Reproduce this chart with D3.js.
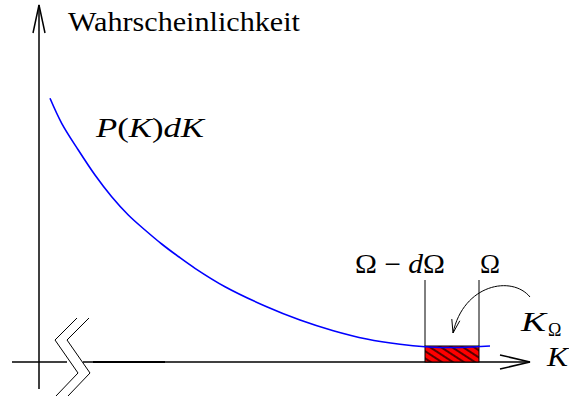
<!DOCTYPE html>
<html>
<head>
<meta charset="utf-8">
<script src="https://cdn.jsdelivr.net/npm/d3@7"></script>
<style>
  html, body { margin: 0; padding: 0; background: #fff; }
  svg { display: block; }
</style>
</head>
<body>
<svg id="chart" width="569" height="396"></svg>
<script>
// Probability density P(K) sampled along K (arbitrary units)
const curveK = [1.1, 2.27, 3.93, 5.6, 7.27, 8.93, 10.6, 12.27, 13.93, 15.6, 18.6, 22.77, 26.1, 29.43, 32.77, 36.1, 38.6, 42.1, 45.1];
const curveP = [26.37, 23.87, 21.2, 18.7, 16.53, 14.7, 13.2, 11.8, 10.55, 9.37, 7.53, 5.53, 4.2, 3.13, 2.3, 1.77, 1.53, 1.45, 1.6];

// Interval [Ω − dΩ, Ω] on the K axis and the height of the shaded strip
const bandK = [38.6, 44.0];
const bandTop = 1.6;
const markerTop = 8.2;

// Axis extents
const xAxisK = [-2.7, 49.1];
const yAxisP = [-2.7, 35.7];
const thickK = [5.4, 12.6];
const gapK = [2.8, 4.4];

// Broken-axis zigzag (two parallel strokes)
const zigK = [3.8, 1.6, 3.9, 1.7];
const zigP = [4.4, 2.2, -1.1, -3.4];
const zigOffsetK = 1.2;

// Curved pointer towards K_Ω
const pointerK = [49.1, 47.3, 42.45, 41.4];
const pointerP = [6.5, 8.7, 7.8, 2.9];

const labels = {
  yTitle: "Wahrscheinlichkeit",
  omega: "Ω",
  minus: "−",
  d: "d",
  K: "K"
};

const serif = "'Liberation Serif', 'Times New Roman', 'DejaVu Serif', serif";

const svg = d3.select("#chart");
const x = d3.scaleLinear().domain([0, 50]).range([39, 539]);
const y = d3.scaleLinear().domain([0, 36]).range([362, 2]);

// hatch pattern for the strip
const defs = svg.append("defs");
const pat = defs.append("pattern")
  .attr("id", "hatch")
  .attr("patternUnits", "userSpaceOnUse")
  .attr("width", 12).attr("height", 6)
  .attr("patternTransform", "rotate(33)");
pat.append("rect").attr("width", 12).attr("height", 6).attr("fill", "#ff0000");
pat.append("line").attr("x1", 0).attr("x2", 12).attr("y1", 3).attr("y2", 3)
  .attr("stroke", "#000").attr("stroke-width", 1.3);

const axisStroke = 1.5;

// y axis
svg.append("line")
  .attr("x1", x(0)).attr("x2", x(0))
  .attr("y1", y(yAxisP[0])).attr("y2", y(yAxisP[1]))
  .attr("stroke", "#000").attr("stroke-width", axisStroke);
// y arrowhead (open)
svg.append("path")
  .attr("d", `M${x(0) - 6},${y(yAxisP[1]) + 28} L${x(0)},${y(yAxisP[1])} L${x(0) + 6},${y(yAxisP[1]) + 28}`)
  .attr("fill", "none").attr("stroke", "#000").attr("stroke-width", axisStroke);

// x axis, broken near origin
svg.append("line")
  .attr("x1", x(xAxisK[0])).attr("x2", x(gapK[0]))
  .attr("y1", y(0)).attr("y2", y(0))
  .attr("stroke", "#000").attr("stroke-width", axisStroke);
svg.append("line")
  .attr("x1", x(gapK[1])).attr("x2", x(xAxisK[1]))
  .attr("y1", y(0)).attr("y2", y(0))
  .attr("stroke", "#000").attr("stroke-width", axisStroke);
svg.append("line")
  .attr("x1", x(thickK[0])).attr("x2", x(thickK[1]))
  .attr("y1", y(0)).attr("y2", y(0))
  .attr("stroke", "#000").attr("stroke-width", 2.2);
// x arrowhead
svg.append("path")
  .attr("d", `M${x(xAxisK[1]) - 30},${y(0) - 7} L${x(xAxisK[1])},${y(0)} L${x(xAxisK[1]) - 30},${y(0) + 7}`)
  .attr("fill", "none").attr("stroke", "#000").attr("stroke-width", axisStroke);

// zigzag break marks
const zigLine = d3.line().x(d => x(d[0])).y(d => y(d[1]));
[0, zigOffsetK].forEach(off => {
  svg.append("path")
    .attr("d", zigLine(zigK.map((k, i) => [k + off, zigP[i]])))
    .attr("fill", "none").attr("stroke", "#000").attr("stroke-width", 1);
});

// shaded strip
svg.append("rect")
  .attr("x", x(bandK[0])).attr("y", y(bandTop))
  .attr("width", x(bandK[1]) - x(bandK[0]))
  .attr("height", y(0) - y(bandTop))
  .attr("fill", "url(#hatch)")
  .attr("stroke", "#000").attr("stroke-width", 1);

// vertical markers at Ω − dΩ and Ω
bandK.forEach(k => {
  svg.append("line")
    .attr("x1", x(k)).attr("x2", x(k))
    .attr("y1", y(markerTop)).attr("y2", y(bandTop))
    .attr("stroke", "#000").attr("stroke-width", 1);
});

// density curve
const line = d3.line()
  .x(d => x(d[0])).y(d => y(d[1]))
  .curve(d3.curveCatmullRom.alpha(0.5));
svg.append("path")
  .attr("d", line(curveK.map((k, i) => [k, curveP[i]])))
  .attr("fill", "none").attr("stroke", "#0000ff").attr("stroke-width", 1.6);

// curved pointer
const pp = pointerK.map((k, i) => [x(k), y(pointerP[i])]);
svg.append("path")
  .attr("d", `M${pp[0]} C${pp[1]} ${pp[2]} ${pp[3]}`)
  .attr("fill", "none").attr("stroke", "#000").attr("stroke-width", 1);
{
  const tip = pp[3];
  const dx = pp[2][0] - tip[0], dy = pp[2][1] - tip[1];
  const len = Math.hypot(dx, dy);
  const ux = dx / len, uy = dy / len;
  const a = 17 * Math.PI / 180, L = 14;
  const arm = s => [tip[0] + L * (ux * Math.cos(s * a) - uy * Math.sin(s * a)),
                    tip[1] + L * (ux * Math.sin(s * a) + uy * Math.cos(s * a))];
  const a1 = arm(1), a2 = arm(-1);
  svg.append("path")
    .attr("d", `M${a1} L${tip} L${a2}`)
    .attr("fill", "none").attr("stroke", "#000").attr("stroke-width", 1);
}

// texts
const fs = 27;
const txt = (px, py, size) => svg.append("text")
  .attr("x", px).attr("y", py)
  .attr("font-family", serif)
  .attr("font-size", size)
  .attr("fill", "#000");

txt(68, 31, fs)
  .attr("textLength", 232).attr("lengthAdjust", "spacingAndGlyphs")
  .text(labels.yTitle);

const pk = txt(96, 137, fs)
  .attr("textLength", 108).attr("lengthAdjust", "spacingAndGlyphs");
pk.append("tspan").attr("font-style", "italic").text("P");
pk.append("tspan").text("(");
pk.append("tspan").attr("font-style", "italic").text(labels.K);
pk.append("tspan").text(")");
pk.append("tspan").attr("font-style", "italic").text(labels.d + labels.K);

const od = txt(355, 273, fs)
  .attr("textLength", 90).attr("lengthAdjust", "spacingAndGlyphs");
od.append("tspan").text(labels.omega + " " + labels.minus + " ");
od.append("tspan").attr("font-style", "italic").text(labels.d);
od.append("tspan").text(labels.omega);

txt(480, 273, fs)
  .attr("textLength", 20).attr("lengthAdjust", "spacingAndGlyphs")
  .text(labels.omega);

txt(521, 331, fs)
  .attr("textLength", 25).attr("lengthAdjust", "spacingAndGlyphs")
  .attr("font-style", "italic").text(labels.K);
txt(548, 336, 18).text(labels.omega);

txt(547, 366, fs)
  .attr("textLength", 21).attr("lengthAdjust", "spacingAndGlyphs")
  .attr("font-style", "italic").text(labels.K);
</script>
</body>
</html>
